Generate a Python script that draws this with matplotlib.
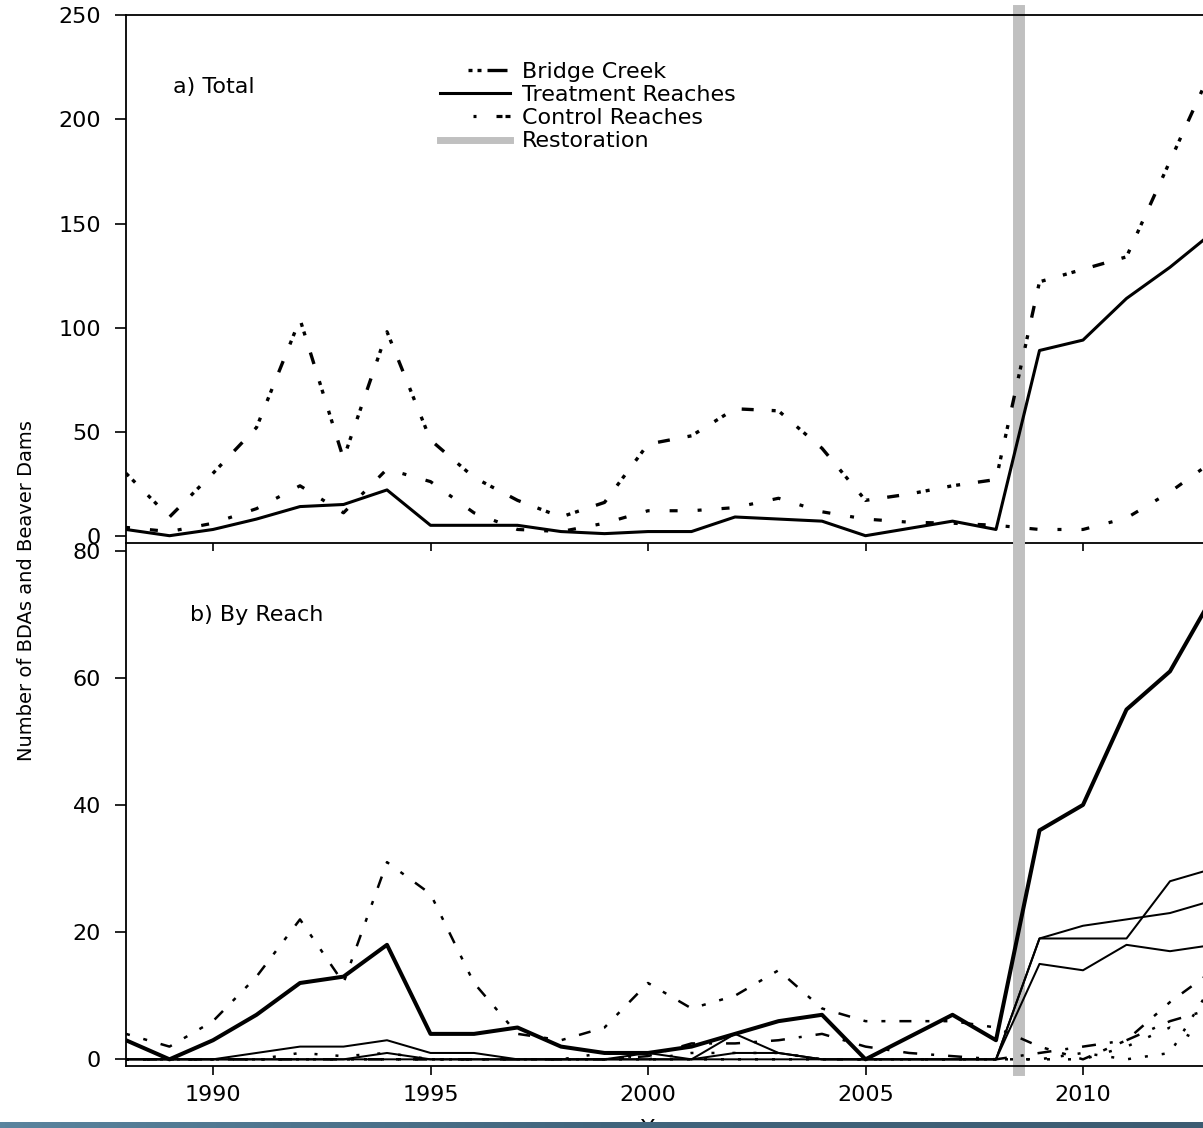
import numpy as np
import matplotlib
matplotlib.use('Agg')
from matplotlib import pyplot as plt
from matplotlib import font_manager
from matplotlib.lines import Line2D
from matplotlib.colors import LinearSegmentedColormap

years = np.arange(1988, 2014)

# a) Total
bridge_creek = [30, 9, 30, 52, 104, 37, 98, 46, 28, 17, 9, 16, 44, 48, 61, 60, 42, 17, 20, 24, 27,
                122, 128, 134, 180, 226]
treatment_total = [3, 0, 3, 8, 14, 15, 22, 5, 5, 5, 2, 1, 2, 2, 9, 8, 7, 0, 3.5, 7, 3,
                   89, 94, 114, 129, 146]
control_total = [4, 2, 6, 13, 24, 11, 32, 26, 11, 3, 2, 6, 12, 12, 13.5, 18, 11.5, 8, 6.5, 6, 5,
                 3, 3, 8.5, 21, 36]

# b) By Reach - treatment reaches (solid)
treat_main = [3, 0, 3, 7, 12, 13, 18, 4, 4, 5, 2, 1, 1, 2, 4, 6, 7, 0, 3.5, 7, 3,
              36, 40, 55, 61, 73]
treat_r2 = [0, 0, 0, 1, 2, 2, 3, 1, 1, 0, 0, 0, 0, 0, 4, 1, 0, 0, 0, 0, 0,
            19, 19, 19, 28, 30]
treat_r3 = [0, 0, 0, 0, 0, 0, 1, 0, 0, 0, 0, 0, 1, 0, 1, 1, 0, 0, 0, 0, 0,
            19, 21, 22, 23, 25]
treat_r4 = [0, 0, 0, 0, 0, 0, 0, 0, 0, 0, 0, 0, 0, 0, 0, 0, 0, 0, 0, 0, 0,
            15, 14, 18, 17, 18]

# b) By Reach - control reaches (broken)
ctrl_main = [4, 2, 6, 13, 22, 12, 31, 26, 12, 4, 3, 5, 12, 8, 10, 14, 8, 6, 6, 6, 5,
             2, 0, 3, 9, 14]
ctrl_r2 = [0, 0, 0, 0, 0, 0, 0, 0, 0, 0, 0, 0, 0.5, 2.5, 2.5, 3, 4, 2, 1, 0.5, 0,
           1, 2, 3, 6, 8]
ctrl_r3 = [0, 0, 0, 0, 1, 0.5, 1, 0, 0, 0, 0, 1, 0, 1, 1, 1, 0, 0, 0, 0, 0,
           0, 0, 2, 5, 2]
ctrl_r4 = [0, 0, 0, 0, 0, 0, 0, 0, 0, 0, 0, 0, 0, 0, 0, 0, 0, 0, 0, 0, 0,
           0, 1, 0, 1, 12]

restoration_year = 2008.53

W, H = 1203, 1128
plt.rcParams['font.family'] = ['DejaVu Sans']
plt.rcParams['lines.scale_dashes'] = False

names = {f.name for f in font_manager.fontManager.ttflist}
narrow = 'Liberation Sans Narrow' in names


def rect(x0, y0, x1, y1):
    # pixel box, origin top-left -> figure fraction rect
    return [x0 / W, 1 - y1 / H, (x1 - x0) / W, (y1 - y0) / H]


def dpx(*seq, offset=0):
    # dash pattern given in pixels
    return (offset * 0.72, tuple(s * 0.72 for s in seq))


fig = plt.figure(figsize=(W / 100, H / 100), dpi=100)
ax1 = fig.add_axes(rect(126, 15.4, 1213.5, 543))
ax2 = fig.add_axes(rect(126, 543, 1213.5, 1066), sharex=ax1)

for ax in (ax1, ax2):
    ax.set_facecolor('none')
    ax.spines['right'].set_visible(False)
    for s in ('left', 'top', 'bottom'):
        ax.spines[s].set_linewidth(1.3)
    ax.tick_params(axis='y', direction='out', length=8, width=1.2, pad=10, labelsize=16)
ax2.spines['top'].set_visible(False)

ax1.set_xlim(1988, 2013)
ax1.set_ylim(-3.5, 250)
ax2.set_ylim(-1.05, 81.18)
ax1.set_yticks([0, 50, 100, 150, 200, 250])
ax2.set_yticks([0, 20, 40, 60, 80])
ax2.set_xticks([1990, 1995, 2000, 2005, 2010])
ax1.tick_params(axis='x', direction='out', length=6, width=1.2, labelbottom=False)
ax2.tick_params(axis='x', direction='out', length=6.5, width=1.2, pad=7, labelsize=16)

# restoration band
ax1.axvline(restoration_year, ymin=0, ymax=1 + 4.7 / 527.6, color='#c0c0c0', lw=8.6,
            clip_on=False, zorder=1)
ax2.axvline(restoration_year, ymin=-4 / 523, ymax=1, color='#c0c0c0', lw=8.6,
            clip_on=False, zorder=1)

# a) totals
ax1.plot(years, bridge_creek, color='black', lw=2.4,
         linestyle=dpx(4, 5, 4, 18, 4, 5, 4, 18, 12, 18), zorder=2)
ax1.plot(years, treatment_total, color='black', lw=2.2, zorder=2)
ax1.plot(years, control_total, color='black', lw=2.3,
         linestyle=dpx(4, 20, 8, 20), zorder=2)

# b) by reach
ax2.plot(years, treat_main, color='black', lw=2.9, zorder=2)
for r in (treat_r2, treat_r3, treat_r4):
    ax2.plot(years, r, color='black', lw=1.45, zorder=2)
ax2.plot(years, ctrl_main, color='black', lw=1.8, linestyle=dpx(4, 14, 4, 14, 12, 14), zorder=2)
ax2.plot(years, ctrl_r2, color='black', lw=1.8, linestyle=dpx(3, 14, 14, 14), zorder=2)
ax2.plot(years, ctrl_r3, color='black', lw=1.8, linestyle=dpx(3, 18), zorder=2)
ax2.plot(years, ctrl_r4, color='black', lw=1.8, linestyle=dpx(3, 14), zorder=2)

# legend
handles = [
    Line2D([], [], color='black', lw=2.4, linestyle=dpx(4, 5, 4, 6, 20, 28, offset=39)),
    Line2D([], [], color='black', lw=2.2),
    Line2D([], [], color='black', lw=2.3, linestyle=dpx(3, 20, 6, 3, 5, 33, offset=37)),
    Line2D([], [], color='#c0c0c0', lw=5),
]
labels = ['Bridge Creek', 'Treatment Reaches', 'Control Reaches', 'Restoration']
ax1.legend(handles, labels, loc='upper left', bbox_to_anchor=(440 / W, 1 - 62 / H),
           bbox_transform=fig.transFigure, frameon=False, fontsize=16,
           handlelength=3.15, handletextpad=0.54, labelspacing=0.14,
           borderpad=0, borderaxespad=0)

fig.text(173 / W, 1 - 87 / H, 'a) Total', fontsize=16, ha='left', va='center')
fig.text(190 / W, 1 - 615 / H, 'b) By Reach', fontsize=16, ha='left', va='center')

if narrow:
    fig.text(27 / W, 1 - 591 / H, 'Number of BDAs and Beaver Dams', rotation=90,
             ha='center', va='center', fontsize=18.5, family='Liberation Sans Narrow')
else:
    fig.text(27 / W, 1 - 591 / H, 'Number of BDAs and Beaver Dams', rotation=90,
             ha='center', va='center', fontsize=14)

fig.text(665 / W, 1 - 1119 / H, 'Year', fontsize=16, ha='center', va='top')

# slate strip along the bottom edge
bar = fig.add_axes([0, 0, 1, 6.5 / H], zorder=10)
bar_cmap = LinearSegmentedColormap.from_list('strip', ['#5a849e', '#41657d', '#3c5c72'])
bar.imshow(np.linspace(0, 1, 256)[None, :], cmap=bar_cmap, aspect='auto',
           extent=(0, 1, 0, 1))
bar.set_axis_off()

fig.savefig('out.png', dpi=100)
